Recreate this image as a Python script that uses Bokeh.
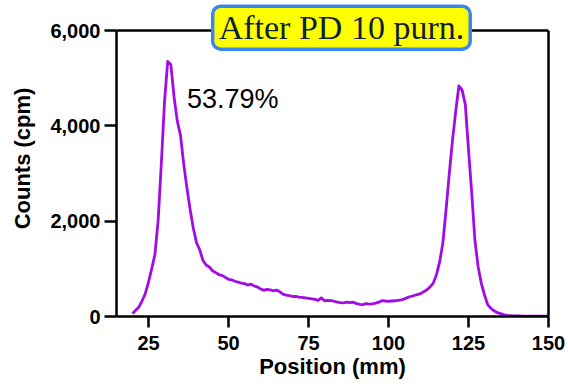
from bokeh.plotting import figure
from bokeh.models import (ColumnDataSource, Label, NumeralTickFormatter, FixedTicker,
                          Range1d, LinearAxis, Span)
from bokeh.embed import file_html
from bokeh.resources import INLINE

# Position (mm) and counts (cpm)
position = list(range(20, 151))
counts = [
    60, 130, 200, 330, 480, 720, 1000, 1300, 2000, 3200,      # 20-29
    4500, 5350, 5280, 4600, 4100, 3800, 3200, 2700, 2250, 1850,  # 30-39
    1550, 1400, 1180, 1080, 1040, 960, 920, 880, 860, 820,      # 40-49
    780, 770, 740, 720, 700, 690, 660, 680, 640, 620,           # 50-59
    580, 550, 570, 560, 540, 555, 520, 470, 450, 440,           # 60-69
    420, 420, 405, 400, 390, 380, 370, 360, 340, 390,           # 70-79
    330, 340, 335, 320, 300, 290, 285, 300, 290, 300,           # 80-89
    270, 255, 250, 270, 260, 265, 280, 300, 335, 325,           # 90-99
    320, 325, 330, 340, 350, 370, 400, 420, 440, 460,           # 100-109
    480, 520, 560, 620, 700, 880, 1150, 1550, 2250, 3000,       # 110-119
    3700, 4300, 4840, 4750, 4450, 3500, 2600, 1600, 1050, 700,  # 120-129
    450, 250, 170, 120, 80, 60, 40, 25, 20, 15,                 # 130-139
    12, 10, 9, 8, 8, 7, 6, 6, 5, 5, 5,                          # 140-150
]
x_ticks = [25, 50, 75, 100, 125, 150]
y_ticks = [0, 2000, 4000, 6000]
x_min, x_max = 15, 150
y_min, y_max = 0, 6000
title_text = "After PD 10 purn."
percent_text = "53.79%"

# frame reaches the top of the canvas so the title box may straddle the top border
y_top = y_max * 316 / 286

p = figure(width=568, height=392, output_backend="svg", toolbar_location=None,
           x_range=Range1d(x_min, x_max), y_range=Range1d(y_min, y_top),
           min_border_left=116, min_border_right=20, min_border_top=0, min_border_bottom=76)

p.grid.visible = False
p.outline_line_color = None
p.background_fill_color = "white"
p.border_fill_color = "white"

src = ColumnDataSource(dict(x=position, y=counts))
p.line("x", "y", source=src, line_color="#A00BE6", line_width=2.8, line_join="round")

# right border as a bare axis
right_axis = LinearAxis(bounds=(y_min, y_max), major_tick_line_color=None,
                        minor_tick_line_color=None, major_label_text_font_size="0px",
                        axis_line_width=2.5, axis_line_color="black")
p.add_layout(right_axis, "right")
# top border
p.add_layout(Span(location=y_max, dimension="width", line_color="black", line_width=2.5))

for ax in (p.xaxis[0], p.yaxis[0]):
    ax.axis_line_width = 2.5
    ax.major_tick_line_width = 2.5
    ax.major_tick_in = 0
    ax.minor_tick_line_color = None
    ax.major_label_text_font = "Liberation Sans"
    ax.major_label_text_font_style = "bold"
    ax.major_label_text_color = "black"
    ax.axis_label_text_font = "Liberation Sans"
    ax.axis_label_text_font_style = "bold"
    ax.axis_label_text_font_size = "22px"
    ax.axis_label_text_color = "black"

left_axis = p.yaxis[0]
left_axis.bounds = (y_min, y_max)
p.xaxis.ticker = FixedTicker(ticks=x_ticks)
left_axis.ticker = FixedTicker(ticks=y_ticks)
right_axis.ticker = FixedTicker(ticks=[])
left_axis.formatter = NumeralTickFormatter(format="0,0")
p.xaxis.major_tick_out = 11
left_axis.major_tick_out = 12
p.xaxis.major_label_text_font_size = "20px"
left_axis.major_label_text_font_size = "20px"
p.xaxis.major_label_standoff = 8
left_axis.major_label_standoff = 4
p.xaxis.axis_label = "Position (mm)"
left_axis.axis_label = "Counts (cpm)"
p.xaxis.axis_label_standoff = 1
left_axis.axis_label_standoff = 12

p.add_layout(Label(x=37.0, y=4880, text=percent_text, text_font="Liberation Sans",
                   text_font_size="27px", text_color="black", text_baseline="top"))

p.add_layout(Label(x=85.3, y=6060, text=title_text, text_font="Liberation Serif",
                   text_font_size="34px", text_color="#0f1f3d", text_align="center",
                   text_baseline="middle",
                   background_fill_color="#FFFF00", border_line_color="#3A86F0",
                   border_line_width=3.5, border_radius=8,
                   padding=dict(left=6, right=6, top=3, bottom=3)))

open("out.html", "w").write(file_html(p, INLINE))
